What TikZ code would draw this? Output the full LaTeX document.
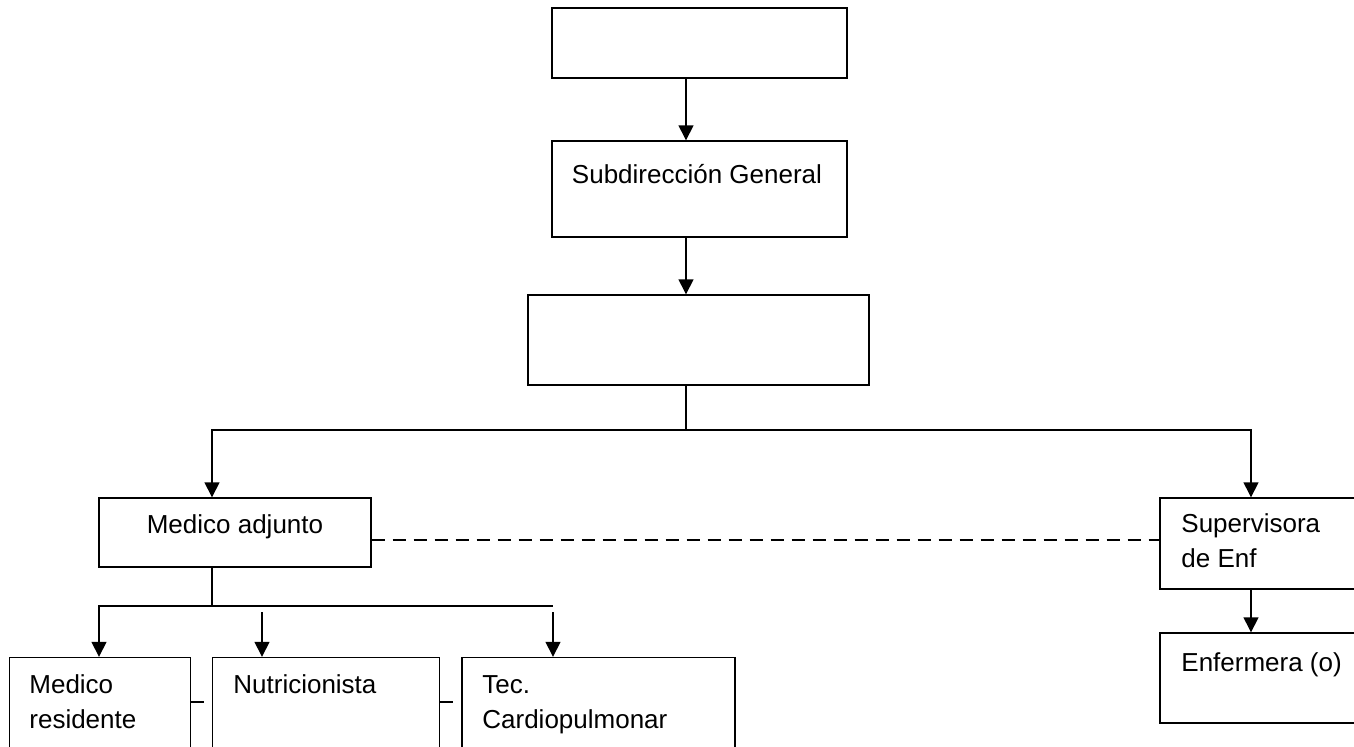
\documentclass[tikz,border=0pt]{standalone}
\usepackage{fontspec}
\setmainfont{Liberation Sans}
\usetikzlibrary{arrows.meta}
\tikzset{
	caja/.style 2 args={draw, line width=0.7pt, inner sep=0pt, minimum width=#1*0.5pt, minimum height=#2*0.5pt},
	texto/.style={inner sep=0pt, align=left, font=\fontsize{13}{17.3}\selectfont},
	flecha/.style={line width=0.7pt, -{Triangle[width=7.5pt, length=7.5pt]}},
	linea/.style={line width=0.7pt},
	enlace/.style={line width=0.7pt, dash pattern=on 6.5pt off 4pt},
}
\begin{document}
\begin{tikzpicture}[x=0.5pt, y=-0.5pt]
	\useasboundingbox (0, 0) rectangle (1354, 746);
	\clip (0, 0) rectangle (1354, 746);
	% cajas
	\node[caja={295}{70}] (jefe) at (699.5, 43) {};
	\node[caja={295}{96}] (subdir) at (699.5, 189) {};
	\node[caja={341}{90}] (depto) at (698.5, 340) {};
	\node[caja={272}{69}] (adjunto) at (235, 532.5) {};
	\node[caja={220}{91}] (superv) at (1270, 543.5) {};
	\node[caja={220}{90}] (enferm) at (1270, 678) {};
	\node[caja={181}{143}] (residente) at (100, 729) {};
	\node[caja={227}{143}] (nutri) at (326, 729) {};
	\node[caja={273}{143}] (tec) at (598.5, 729) {};
	% textos (base = ultima linea)
	\node[texto, anchor=base] (tSubdir) at (697, 183) {Subdirección General};
	\node[texto, anchor=base] (tAdjunto) at (235, 533) {Medico adjunto};
	\node[texto, anchor=base west] (tSuperv) at (1181, 567) {Supervisora\\de Enf};
	\node[texto, anchor=base west] (tEnferm) at (1181, 671) {Enfermera (o)};
	\node[texto, anchor=base west] (tResidente) at (29, 728) {Medico\\residente};
	\node[texto, anchor=base west] (tNutri) at (233, 693) {Nutricionista};
	\node[texto, anchor=base west] (tTec) at (482, 728) {Tec.\\Cardiopulmonar};
	% puntos de las ramas
	\coordinate (eje) at (686, 0);
	\coordinate (izq) at (212, 430);
	\coordinate (der) at (1251, 430);
	\coordinate (sub) at (212, 606);
	\coordinate (subIzq) at (99, 606);
	\coordinate (subDer) at (553, 606);
	\coordinate (n1) at (262, 612);
	\coordinate (n2) at (553, 612);
	\coordinate (guion) at (0, 540);
	\coordinate (guion2) at (0, 702);
	% conectores
	\draw[flecha] (jefe.south -| eje) -- (subdir.north -| eje);
	\draw[flecha] (subdir.south -| eje) -- (depto.north -| eje);
	\draw[flecha] (depto.south -| eje) -- (eje |- izq) -- (izq) -- (adjunto.north -| izq);
	\draw[flecha] (eje |- izq) -- (der) -- (superv.north -| der);
	\draw[flecha] (superv.south -| der) -- (enferm.north -| der);
	\draw[flecha] (adjunto.south -| sub) -- (sub) -- (subIzq) -- (residente.north -| subIzq);
	\draw[linea] (sub) -- (subDer);
	\draw[flecha] (n1) -- (nutri.north -| n1);
	\draw[flecha] (n2) -- (tec.north -| n2);
	\draw[enlace] (adjunto.east |- guion) -- (superv.west |- guion);
	\draw[enlace] (residente.east |- guion2) -- (nutri.west |- guion2);
	\draw[enlace] (nutri.east |- guion2) -- (tec.west |- guion2);
\end{tikzpicture}
\end{document}
